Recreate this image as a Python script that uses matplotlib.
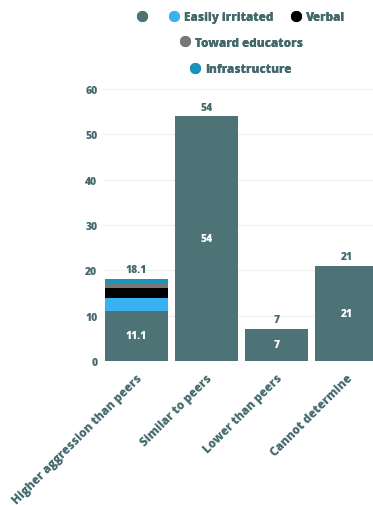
import matplotlib.pyplot as plt
from matplotlib.lines import Line2D

categories = ['Higher aggression than peers', 'Similar to peers', 'Lower than peers', 'Cannot determine']
base_vals = [11.1, 54, 7, 21]
# sub-segments stacked on the first bar only
stack_names = ['Easily irritated', 'Verbal', 'Toward educators', 'Infrastructure']
stack_vals = [2.8, 2.1, 1.2, 0.9]
totals = ['18.1', '54', '7', '21']

teal = '#4d7377'
txt = '#44696d'
stack_cols = ['#38b2f2', '#000000', '#777777', '#1a93b8']

plt.rcParams['font.family'] = ['Open Sans', 'DejaVu Sans']
wt = 800

fig = plt.figure(figsize=(3.73, 5.06), dpi=100)
ax = fig.add_axes([0.276, 0.285, 0.724, 0.537])

x = list(range(len(categories)))
w = 0.9
ax.bar(x, base_vals, width=w, color=teal, zorder=2)
bottom = base_vals[0]
for v, c in zip(stack_vals, stack_cols):
	ax.bar(0, v, bottom=bottom, width=w, color=c, zorder=2)
	bottom += v

tops = [bottom] + base_vals[1:]
for i in x:
	ax.text(i, tops[i] + 0.8, totals[i], ha='center', va='bottom', color=txt, fontsize=7.5, fontweight=wt)
	ax.text(i, base_vals[i] / 2, str(base_vals[i]), ha='center', va='center', color='white', fontsize=7.5, fontweight=wt)

ax.set_ylim(0, 60)
ax.set_xlim(-0.479, 3.379)
ax.set_yticks([0, 10, 20, 30, 40, 50, 60])
ax.yaxis.grid(True, color='#f0f0f0', lw=0.8, zorder=0)
ax.set_axisbelow(True)
for s in ax.spines.values():
	s.set_visible(False)
ax.tick_params(length=0, labelcolor=txt, pad=4)
for t in ax.get_yticklabels():
	t.set_fontsize(7.5)
	t.set_fontweight(wt)
ax.set_xticks(x)
ax.set_xticklabels(categories, rotation=45, ha='right', rotation_mode='anchor', fontsize=8.5, fontweight=wt, color=txt)
ax.tick_params(axis='x', pad=8)

def dot(c):
	return Line2D([], [], marker='o', ls='none', color=c, markersize=7)

rows = [
	([dot(teal), dot(stack_cols[0]), dot(stack_cols[1])], ['', stack_names[0], stack_names[1]], 0.965),
	([dot(stack_cols[2])], [stack_names[2]], 0.914),
	([dot(stack_cols[3])], [stack_names[3]], 0.861),
]
for h, l, yy in rows:
	leg = fig.legend(h, l, loc='center', bbox_to_anchor=(0.645, yy), ncol=len(h), frameon=False,
		prop={'size': 8.5, 'weight': wt}, handletextpad=0.35, columnspacing=1.4, handlelength=1.0, labelcolor=txt)
	fig.add_artist(leg)

fig.savefig('out.png', dpi=100)
